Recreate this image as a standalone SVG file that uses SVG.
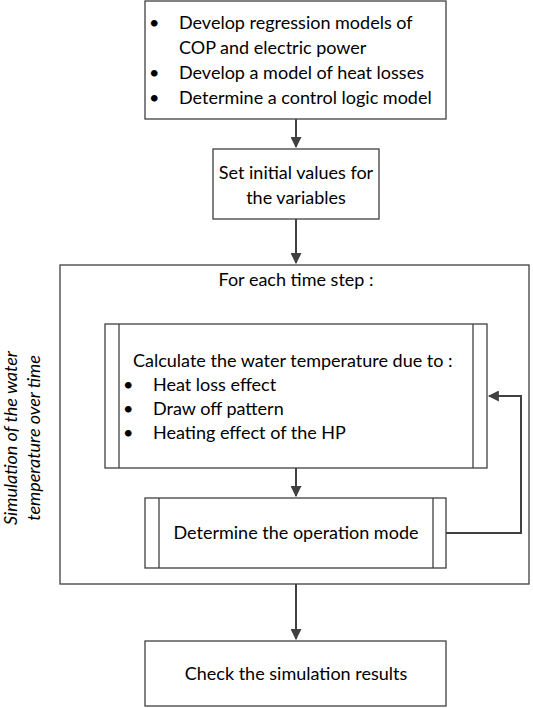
<svg xmlns="http://www.w3.org/2000/svg" width="533" height="708" viewBox="0 0 533 708">
<style>
.b{fill:#fff;stroke:#404040;stroke-width:1.3}
.l{fill:none;stroke:#404040;stroke-width:1.3}
.c{fill:none;stroke:#404040;stroke-width:2}
text{font-family:Lato,"Liberation Sans",sans-serif;font-size:18px;fill:#000}
.m{text-anchor:middle}
.i{font-style:italic}
</style>
<defs>
<marker id="a" viewBox="0 0 10 10" refX="9" refY="5" markerWidth="5.5" markerHeight="5.5" orient="auto" markerUnits="strokeWidth">
<path d="M0,0L10,5L0,10z" fill="#404040"/>
</marker>
</defs>
<g id="frame">
<rect class="b" x="60" y="265" width="469" height="319"/>
<text class="m" x="296" y="286">For each time step :</text>
<g transform="translate(24,438) rotate(-90)">
<text class="m i" x="0" y="-7">Simulation of the water</text>
<text class="m i" x="0" y="16">temperature over time</text>
</g>
</g>
<g id="n1">
<rect class="b" x="145" y="1" width="301" height="118"/>
<text x="149" y="29">•</text><text x="179" y="29">Develop regression models of</text>
<text x="179" y="54">COP and electric power</text>
<text x="149" y="79">•</text><text x="179" y="79">Develop a model of heat losses</text>
<text x="149" y="104">•</text><text x="179" y="104">Determine a control logic model</text>
</g>
<g id="n2">
<rect class="b" x="213" y="149" width="166" height="70"/>
<text class="m" x="296" y="179">Set initial values for</text>
<text class="m" x="296" y="204">the variables</text>
</g>
<g id="n3">
<rect class="b" x="105" y="324" width="382" height="144"/>
<line class="l" x1="119" y1="324" x2="119" y2="468"/>
<line class="l" x1="473" y1="324" x2="473" y2="468"/>
<text x="133" y="367">Calculate the water temperature due to :</text>
<text x="123" y="391">•</text><text x="153" y="391">Heat loss effect</text>
<text x="123" y="415">•</text><text x="153" y="415">Draw off pattern</text>
<text x="123" y="439">•</text><text x="153" y="439">Heating effect of the HP</text>
</g>
<g id="n4">
<rect class="b" x="145" y="498" width="301" height="70"/>
<line class="l" x1="159" y1="498" x2="159" y2="568"/>
<line class="l" x1="433" y1="498" x2="433" y2="568"/>
<text class="m" x="296" y="539">Determine the operation mode</text>
</g>
<g id="n5">
<rect class="b" x="145" y="641" width="301" height="65"/>
<text class="m" x="296" y="680">Check the simulation results</text>
</g>
<g id="connectors">
<path class="c" d="M296,119V147" marker-end="url(#a)"/>
<path class="c" d="M296,219V263" marker-end="url(#a)"/>
<path class="c" d="M296,468V496" marker-end="url(#a)"/>
<path class="c" d="M446,533H521V396H489" marker-end="url(#a)"/>
<path class="c" d="M296,584V639" marker-end="url(#a)"/>
</g>
</svg>
